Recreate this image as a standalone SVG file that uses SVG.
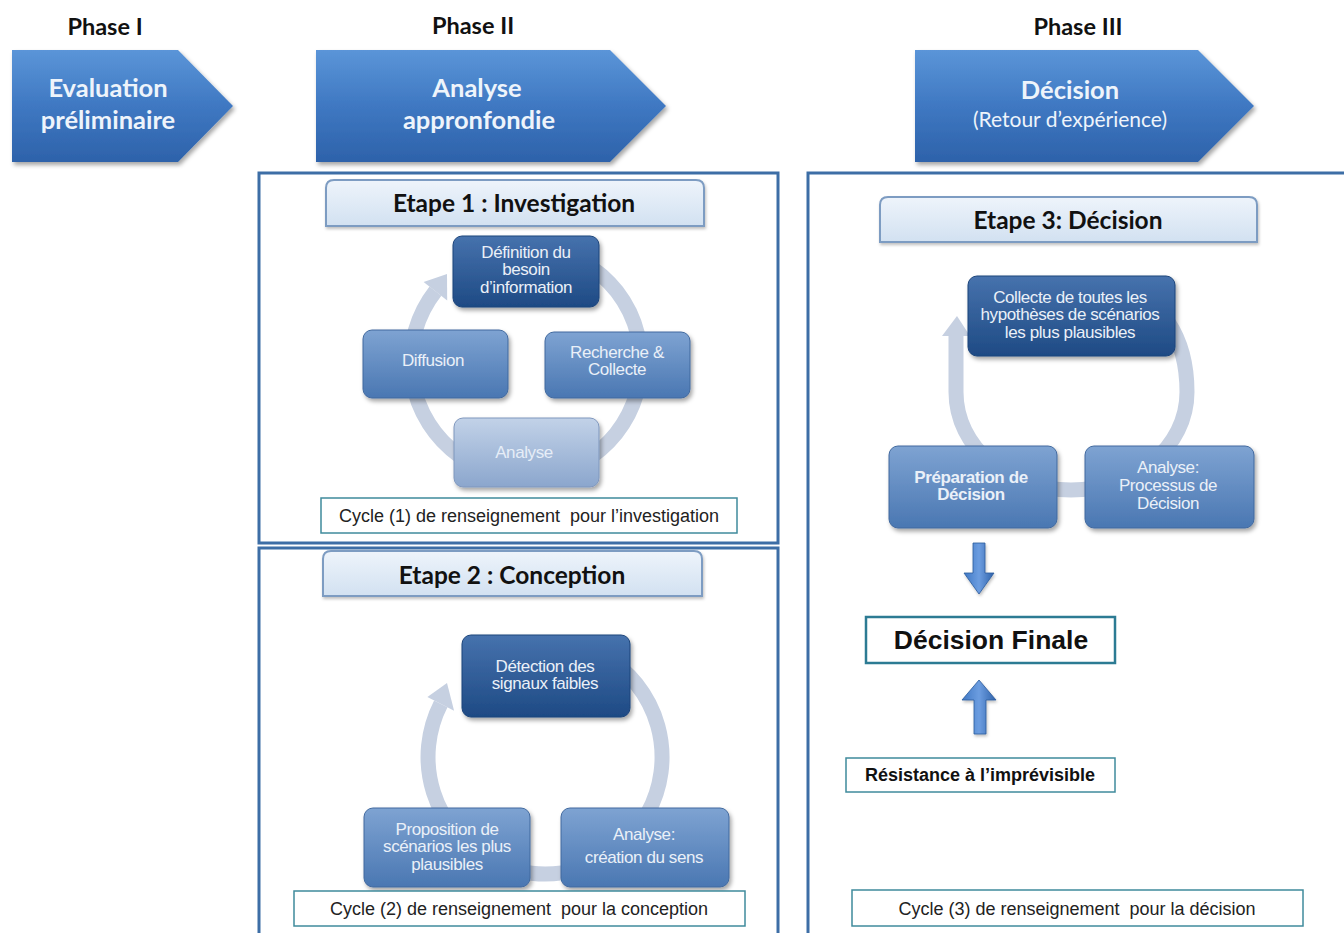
<svg xmlns="http://www.w3.org/2000/svg" width="1344" height="933" viewBox="0 0 1344 933">
<defs>
<linearGradient id="gPhase" x1="0" y1="0" x2="0" y2="1">
<stop offset="0" stop-color="#5b95d8"/><stop offset="0.5" stop-color="#3f78c2"/><stop offset="1" stop-color="#2d62aa"/>
</linearGradient>
<linearGradient id="gDark" x1="0" y1="0" x2="0" y2="1">
<stop offset="0" stop-color="#4672ad"/><stop offset="1" stop-color="#1e4a84"/>
</linearGradient>
<linearGradient id="gMid" x1="0" y1="0" x2="0" y2="1">
<stop offset="0" stop-color="#7ea3d2"/><stop offset="1" stop-color="#4a77b2"/>
</linearGradient>
<linearGradient id="gLight" x1="0" y1="0" x2="0" y2="1">
<stop offset="0" stop-color="#c2d2e8"/><stop offset="1" stop-color="#8ba6cd"/>
</linearGradient>
<linearGradient id="gTitle" x1="0" y1="0" x2="0" y2="1">
<stop offset="0" stop-color="#eef4fb"/><stop offset="1" stop-color="#d2e1f1"/>
</linearGradient>
<linearGradient id="gArrow" x1="0" y1="0" x2="1" y2="0">
<stop offset="0" stop-color="#3f78c4"/><stop offset="0.5" stop-color="#6c9de0"/><stop offset="1" stop-color="#2f62aa"/>
</linearGradient>
<filter id="shadow" x="-10%" y="-10%" width="125%" height="135%">
<feDropShadow dx="2" dy="3" stdDeviation="2" flood-color="#000" flood-opacity="0.35"/>
</filter>
<filter id="soft" x="-10%" y="-10%" width="125%" height="135%">
<feDropShadow dx="1" dy="2" stdDeviation="1.5" flood-color="#000" flood-opacity="0.25"/>
</filter>
</defs>
<style>
.phaseLbl{font-family:Lato,"Liberation Sans",sans-serif;font-weight:bold;font-size:23.5px;fill:#111;text-anchor:middle}
.phaseTxt{font-family:Lato,"Liberation Sans",sans-serif;font-weight:bold;font-size:25.5px;fill:#eef4fb;text-anchor:middle}
.phaseSub{font-family:Lato,"Liberation Sans",sans-serif;font-size:21px;fill:#eef4fb;text-anchor:middle}
.panel{fill:#fff;stroke:#3d6ea6;stroke-width:3}
.title{fill:url(#gTitle);stroke:#7d9cc2;stroke-width:2}
.titleTxt{font-family:Lato,"Liberation Sans",sans-serif;font-weight:bold;font-size:24.5px;fill:#111;text-anchor:middle}
.ring{fill:none;stroke:#c6d0e1;stroke-width:15}
.ringHead{fill:#c6d0e1}
.dark{fill:url(#gDark);stroke:#1c447a;stroke-width:1}
.mid{fill:url(#gMid);stroke:#41699e;stroke-width:1}
.light{fill:url(#gLight);stroke:#7f97bd;stroke-width:1}
.nTxt{font-family:"Liberation Sans",Arial,sans-serif;font-size:17px;fill:#eaf0f8;text-anchor:middle;letter-spacing:-0.4px}
.nTxtL{font-family:"Liberation Sans",Arial,sans-serif;font-size:17px;fill:#e6edf7;text-anchor:middle;letter-spacing:-0.4px}
.lbl{fill:#fff;stroke:#3f8b9c;stroke-width:1.5}
.lblTxt{font-family:"Liberation Sans",Arial,sans-serif;font-size:18px;fill:#222;text-anchor:middle;white-space:pre}
.bArrow{fill:url(#gArrow);stroke:#2b5a9c;stroke-width:0.8}
</style>

<!-- Phase headers -->
<g id="phase1">
<text class="phaseLbl" x="105" y="35">Phase I</text>
<polygon points="12,50 178,50 233,106 178,162 12,162" fill="url(#gPhase)" filter="url(#shadow)"/>
<text class="phaseTxt" x="108" y="97">Evaluation</text>
<text class="phaseTxt" x="108" y="129">préliminaire</text>
</g>
<g id="phase2">
<text class="phaseLbl" x="473" y="34">Phase II</text>
<polygon points="316,50 610,50 666,106 610,162 316,162" fill="url(#gPhase)" filter="url(#shadow)"/>
<text class="phaseTxt" x="477" y="97">Analyse</text>
<text class="phaseTxt" x="479" y="129">appronfondie</text>
</g>
<g id="phase3">
<text class="phaseLbl" x="1078" y="35">Phase III</text>
<polygon points="915,50 1198,50 1254,106 1198,162 915,162" fill="url(#gPhase)" filter="url(#shadow)"/>
<text class="phaseTxt" x="1070" y="99">Décision</text>
<text class="phaseSub" x="1070" y="127">(Retour d’expérience)</text>
</g>

<!-- Panels -->
<g id="panel1"><rect class="panel" x="259" y="173" width="519" height="370"/></g>
<g id="panel2"><rect class="panel" x="259" y="548" width="519" height="390"/></g>
<g id="panel3"><rect class="panel" x="808" y="173" width="540" height="765"/></g>

<!-- Etape titles -->
<g id="etape1">
<path class="title" d="M326 226 L326 188 Q326 180 334 180 L696 180 Q704 180 704 188 L704 226 Z" filter="url(#soft)"/>
<text class="titleTxt" x="514" y="212">Etape 1 : Investigation</text>
</g>
<g id="etape2">
<path class="title" d="M323 596 L323 559 Q323 551 331 551 L694 551 Q702 551 702 559 L702 596 Z" filter="url(#soft)"/>
<text class="titleTxt" x="512" y="584">Etape 2 : Conception</text>
</g>
<g id="etape3">
<path class="title" d="M880 242 L880 205 Q880 197 888 197 L1249 197 Q1257 197 1257 205 L1257 242 Z" filter="url(#soft)"/>
<text class="titleTxt" x="1068" y="229">Etape 3: Décision</text>
</g>

<!-- Connectors (cycle rings and arrows) -->
<g id="connectors">
<path class="ring" d="M583.5 262.4 A115 115 0 1 1 435.4 291.2"/>
<polygon class="ringHead" points="423.6,282 447.2,300.4 447,274"/>
<path class="ring" d="M603.5 655.7 A117 117 0 1 1 440.8 703.9"/>
<polygon class="ringHead" points="427.4,697.1 454.1,710.7 447,683"/>
<path class="ring" d="M1120 285 C1160 300 1187 335 1187 392 C1187 447 1135 490 1071 490 C1007 490 956 447 956 392 L956 336"/>
<polygon class="ringHead" points="942,336 970,336 957,316"/>
<polygon class="bArrow" points="973,543 985,543 985,573 994,573 979,594 964,573 973,573" filter="url(#soft)"/>
<polygon class="bArrow" points="979,680 996,700 986,700 986,734 974,734 974,700 962,700" filter="url(#soft)"/>
</g>

<!-- Cycle 1 nodes -->
<g id="n-definition">
<rect class="dark" x="453" y="236" width="146" height="71" rx="9" filter="url(#shadow)"/>
<text class="nTxt" x="526" y="258">Définition du</text>
<text class="nTxt" x="526" y="275">besoin</text>
<text class="nTxt" x="526" y="293">d’information</text>
</g>
<g id="n-recherche">
<rect class="mid" x="545" y="332" width="145" height="66" rx="9" filter="url(#shadow)"/>
<text class="nTxt" x="617" y="358">Recherche &amp;</text>
<text class="nTxt" x="617" y="375">Collecte</text>
</g>
<g id="n-analyse1">
<rect class="light" x="454" y="418" width="145" height="69" rx="9" filter="url(#shadow)"/>
<text class="nTxtL" x="524" y="458">Analyse</text>
</g>
<g id="n-diffusion">
<rect class="mid" x="363" y="330" width="145" height="68" rx="9" filter="url(#shadow)"/>
<text class="nTxt" x="433" y="366">Diffusion</text>
</g>
<g id="label1">
<rect class="lbl" x="321" y="498" width="416" height="35"/>
<text class="lblTxt" x="529" y="522" xml:space="preserve">Cycle (1) de renseignement  pour l’investigation</text>
</g>

<!-- Cycle 2 nodes -->
<g id="n-detection">
<rect class="dark" x="462" y="635" width="168" height="82" rx="9" filter="url(#shadow)"/>
<text class="nTxt" x="545" y="672">Détection des</text>
<text class="nTxt" x="545" y="689">signaux faibles</text>
</g>
<g id="n-proposition">
<rect class="mid" x="364" y="808" width="166" height="79" rx="9" filter="url(#shadow)"/>
<text class="nTxt" x="447" y="835">Proposition de</text>
<text class="nTxt" x="447" y="852">scénarios les plus</text>
<text class="nTxt" x="447" y="870">plausibles</text>
</g>
<g id="n-analyse2">
<rect class="mid" x="561" y="808" width="168" height="79" rx="9" filter="url(#shadow)"/>
<text class="nTxt" x="644" y="840">Analyse:</text>
<text class="nTxt" x="644" y="863">création du sens</text>
</g>
<g id="label2">
<rect class="lbl" x="294" y="891" width="451" height="35"/>
<text class="lblTxt" x="519" y="915" xml:space="preserve">Cycle (2) de renseignement  pour la conception</text>
</g>

<!-- Cycle 3 nodes -->
<g id="n-collecte">
<rect class="dark" x="968" y="276" width="207" height="80" rx="9" filter="url(#shadow)"/>
<text class="nTxt" x="1070" y="303">Collecte de toutes les</text>
<text class="nTxt" x="1070" y="320">hypothèses de scénarios</text>
<text class="nTxt" x="1070" y="338">les plus plausibles</text>
</g>
<g id="n-preparation">
<rect class="mid" x="889" y="446" width="168" height="82" rx="9" filter="url(#shadow)"/>
<text class="nTxt" x="971" y="483" font-weight="bold">Préparation de</text>
<text class="nTxt" x="971" y="500" font-weight="bold">Décision</text>
</g>
<g id="n-analyse3">
<rect class="mid" x="1085" y="446" width="169" height="82" rx="9" filter="url(#shadow)"/>
<text class="nTxt" x="1168" y="473">Analyse:</text>
<text class="nTxt" x="1168" y="491">Processus de</text>
<text class="nTxt" x="1168" y="509">Décision</text>
</g>
<g id="n-final">
<rect fill="#fff" stroke="#2c7b93" stroke-width="2.5" x="866" y="617" width="249" height="46"/>
<text x="991" y="649" font-family="'Liberation Sans',Arial,sans-serif" font-weight="bold" font-size="26.5" fill="#111" text-anchor="middle">Décision Finale</text>
</g>
<g id="n-resistance">
<rect class="lbl" x="846" y="758" width="269" height="34"/>
<text x="980" y="781" font-family="'Liberation Sans',Arial,sans-serif" font-weight="bold" font-size="18" fill="#111" text-anchor="middle">Résistance à l’imprévisible</text>
</g>
<g id="label3">
<rect class="lbl" x="852" y="890" width="451" height="36"/>
<text class="lblTxt" x="1077" y="915" xml:space="preserve">Cycle (3) de renseignement  pour la décision</text>
</g>
</svg>
